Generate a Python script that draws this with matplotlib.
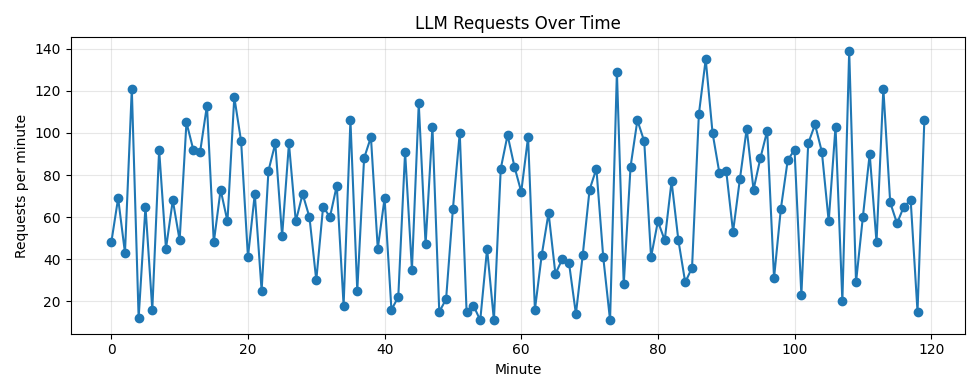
import matplotlib
matplotlib.use("Agg")
import matplotlib.pyplot as plt

minutes = list(range(120))
requests = [48, 69, 43, 121, 12, 65, 16, 92, 45, 68,
            49, 105, 92, 91, 113, 48, 73, 58, 117, 96,
            41, 71, 25, 82, 95, 51, 95, 58, 71, 60,
            30, 65, 60, 75, 18, 106, 25, 88, 98, 45,
            69, 16, 22, 91, 35, 114, 47, 103, 15, 21,
            64, 100, 15, 18, 11, 45, 11, 83, 99, 84,
            72, 98, 16, 42, 62, 33, 40, 38, 14, 42,
            73, 83, 41, 11, 129, 28, 84, 106, 96, 41,
            58, 49, 77, 49, 29, 36, 109, 135, 100, 81,
            82, 53, 78, 102, 73, 88, 101, 31, 64, 87,
            92, 23, 95, 104, 91, 58, 103, 20, 139, 29,
            60, 90, 48, 121, 67, 57, 65, 68, 15, 106]

fig, ax = plt.subplots(figsize=(9.8, 3.92), dpi=100)
ax.plot(minutes, requests, marker="o", linestyle="-")
ax.set_title("LLM Requests Over Time")
ax.set_xlabel("Minute")
ax.set_ylabel("Requests per minute")
ax.grid(True, alpha=0.3)
fig.tight_layout()
fig.savefig("out.png")
plt.close(fig)
